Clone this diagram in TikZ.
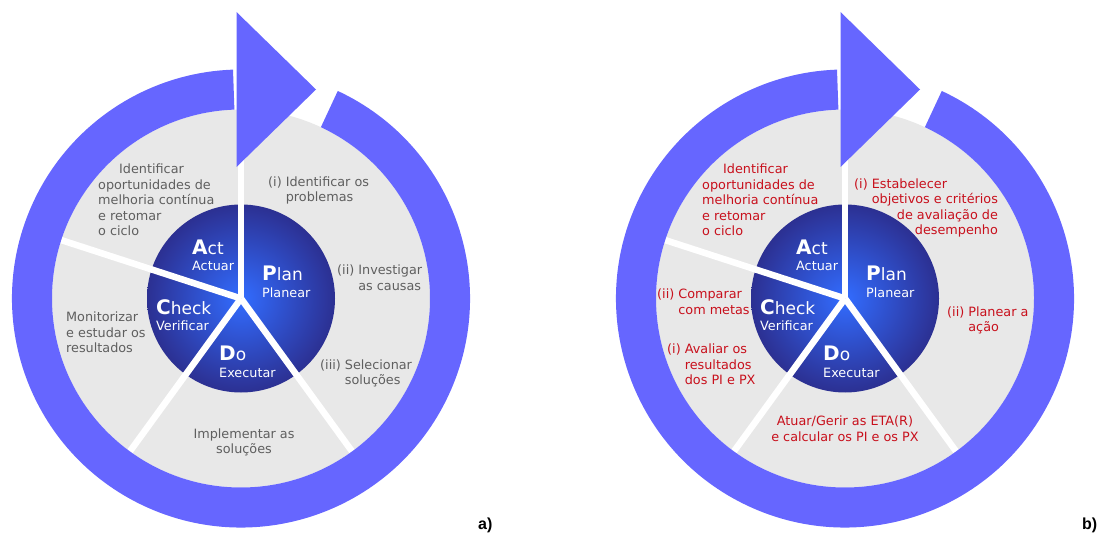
\documentclass[tikz,border=0pt]{standalone}
\usepackage{fontspec}
\setmainfont{DejaVu Sans}
\newfontfamily\panelfont{Liberation Sans}

\definecolor{ringblue}{RGB}{102,102,255}
\definecolor{diskgray}{RGB}{232,232,232}
\definecolor{pdcain}{RGB}{50,108,255}
\definecolor{pdcaout}{RGB}{44,48,146}
\definecolor{txtgray}{RGB}{95,95,95}
\definecolor{txtred}{RGB}{200,16,28}

\newcommand{\pdcalbl}[3]{{\fontsize{20}{20}\selectfont\bfseries #1}{\fontsize{17}{20}\selectfont #2}\\#3}
\newcommand{\hanglbl}[2]{\begin{tabular}{@{}l@{\ }l@{}}#1&#2\end{tabular}}
\newcommand{\hangrlbl}[2]{\begin{tabular}{@{}l@{\ }r@{}}#1&#2\end{tabular}}

\begin{document}
\begin{tikzpicture}[
  x=1pt, y=1pt,
  font=\fontsize{12.8}{15.5}\selectfont,
  graytxt/.style={text=txtgray, inner sep=0pt},
  redtxt/.style={text=txtred, inner sep=0pt},
  pdca/.style={text=white, align=left, inner sep=0pt, anchor=west, font=\fontsize{12.8}{16.5}\selectfont},
  spoke/.style={white, line width=6.5pt},
  panel/.style={anchor=base west, inner sep=0pt, font=\panelfont\fontsize{16}{16}\selectfont\bfseries}
]
\useasboundingbox (0,0) rectangle (1105,533);

\foreach \cx/\nm in {241/a,845/b}{
  \begin{scope}[shift={(\cx,234.5)}]
    \coordinate (c\nm) at (0,0);
    \fill[diskgray] (c\nm) circle[radius=189];
    \shade[inner color=pdcain, outer color=pdcaout] (c\nm) circle[radius=94];
    \foreach \a in {90,162,234,306}
      \draw[spoke] (c\nm) -- ++(\a:189);
    \fill[ringblue] (65:229) arc[start angle=65, end angle=-268, radius=229]
      -- (-268:189) arc[start angle=-268, end angle=65, radius=189] -- cycle;
    \fill[ringblue] (-4.5,131.5) -- (75,209) -- (-4.5,286.5) -- cycle;
    \node[pdca] (\nm-A) at (-49,43) {\pdcalbl{A}{ct}{Actuar}};
    \node[pdca] (\nm-P) at (21,16.5) {\pdcalbl{P}{lan}{Planear}};
    \node[pdca] (\nm-C) at (-85,-16.5) {\pdcalbl{C}{heck}{Verificar}};
    \node[pdca] (\nm-D) at (-22,-63.5) {\pdcalbl{D}{o}{Executar}};
  \end{scope}
}

\begin{scope}[shift={(241,234.5)}]
  \node[graytxt, anchor=west, align=left] (a-act) at (-143,98.5)
    {\hspace*{21pt}Identificar\\oportunidades de\\melhoria contínua\\e retomar\\o ciclo};
  \node[graytxt, anchor=west] (a-plan1) at (27,107.5) {\hanglbl{(i)}{Identificar os\\&problemas}};
  \node[graytxt, anchor=west] (a-plan2) at (96,19) {\hanglbl{(ii)}{Investigar\\&as causas}};
  \node[graytxt, anchor=west] (a-plan3) at (79,-75.5) {\hanglbl{(iii)}{Selecionar\\&soluções}};
  \node[graytxt, align=center] (a-do) at (3,-144) {Implementar as\\soluções};
  \node[graytxt, anchor=west, align=left] (a-check) at (-175,-34) {Monitorizar\\e estudar os\\resultados};
\end{scope}

\begin{scope}[shift={(845,234.5)}]
  \node[redtxt, anchor=west, align=left] (b-act) at (-143,98.5)
    {\hspace*{21pt}Identificar\\oportunidades de\\melhoria contínua\\e retomar\\o ciclo};
  \node[redtxt, anchor=west] (b-plan1) at (9,90)
    {\hangrlbl{(i)}{Estabelecer\hfill\mbox{}\\&objetivos e critérios\\&de avaliação de\\&desempenho}};
  \node[redtxt, anchor=west] (b-plan2) at (102,-22.5) {\hanglbl{(ii)}{Planear a\\&ação}};
  \node[redtxt, anchor=west] (b-check2) at (-188,-5) {\hanglbl{(ii)}{Comparar\\&com metas}};
  \node[redtxt, anchor=west] (b-check1) at (-178,-67.5) {\hanglbl{(i)}{Avaliar os\\&resultados\\&dos PI e PX}};
  \node[redtxt, align=center] (b-do) at (0,-130) {Atuar/Gerir as ETA(R)\\e calcular os PI e os PX};
\end{scope}

\node[panel] (pa) at (478,4) {a)};
\node[panel] (pb) at (1082,4) {b)};
\end{tikzpicture}
\end{document}
